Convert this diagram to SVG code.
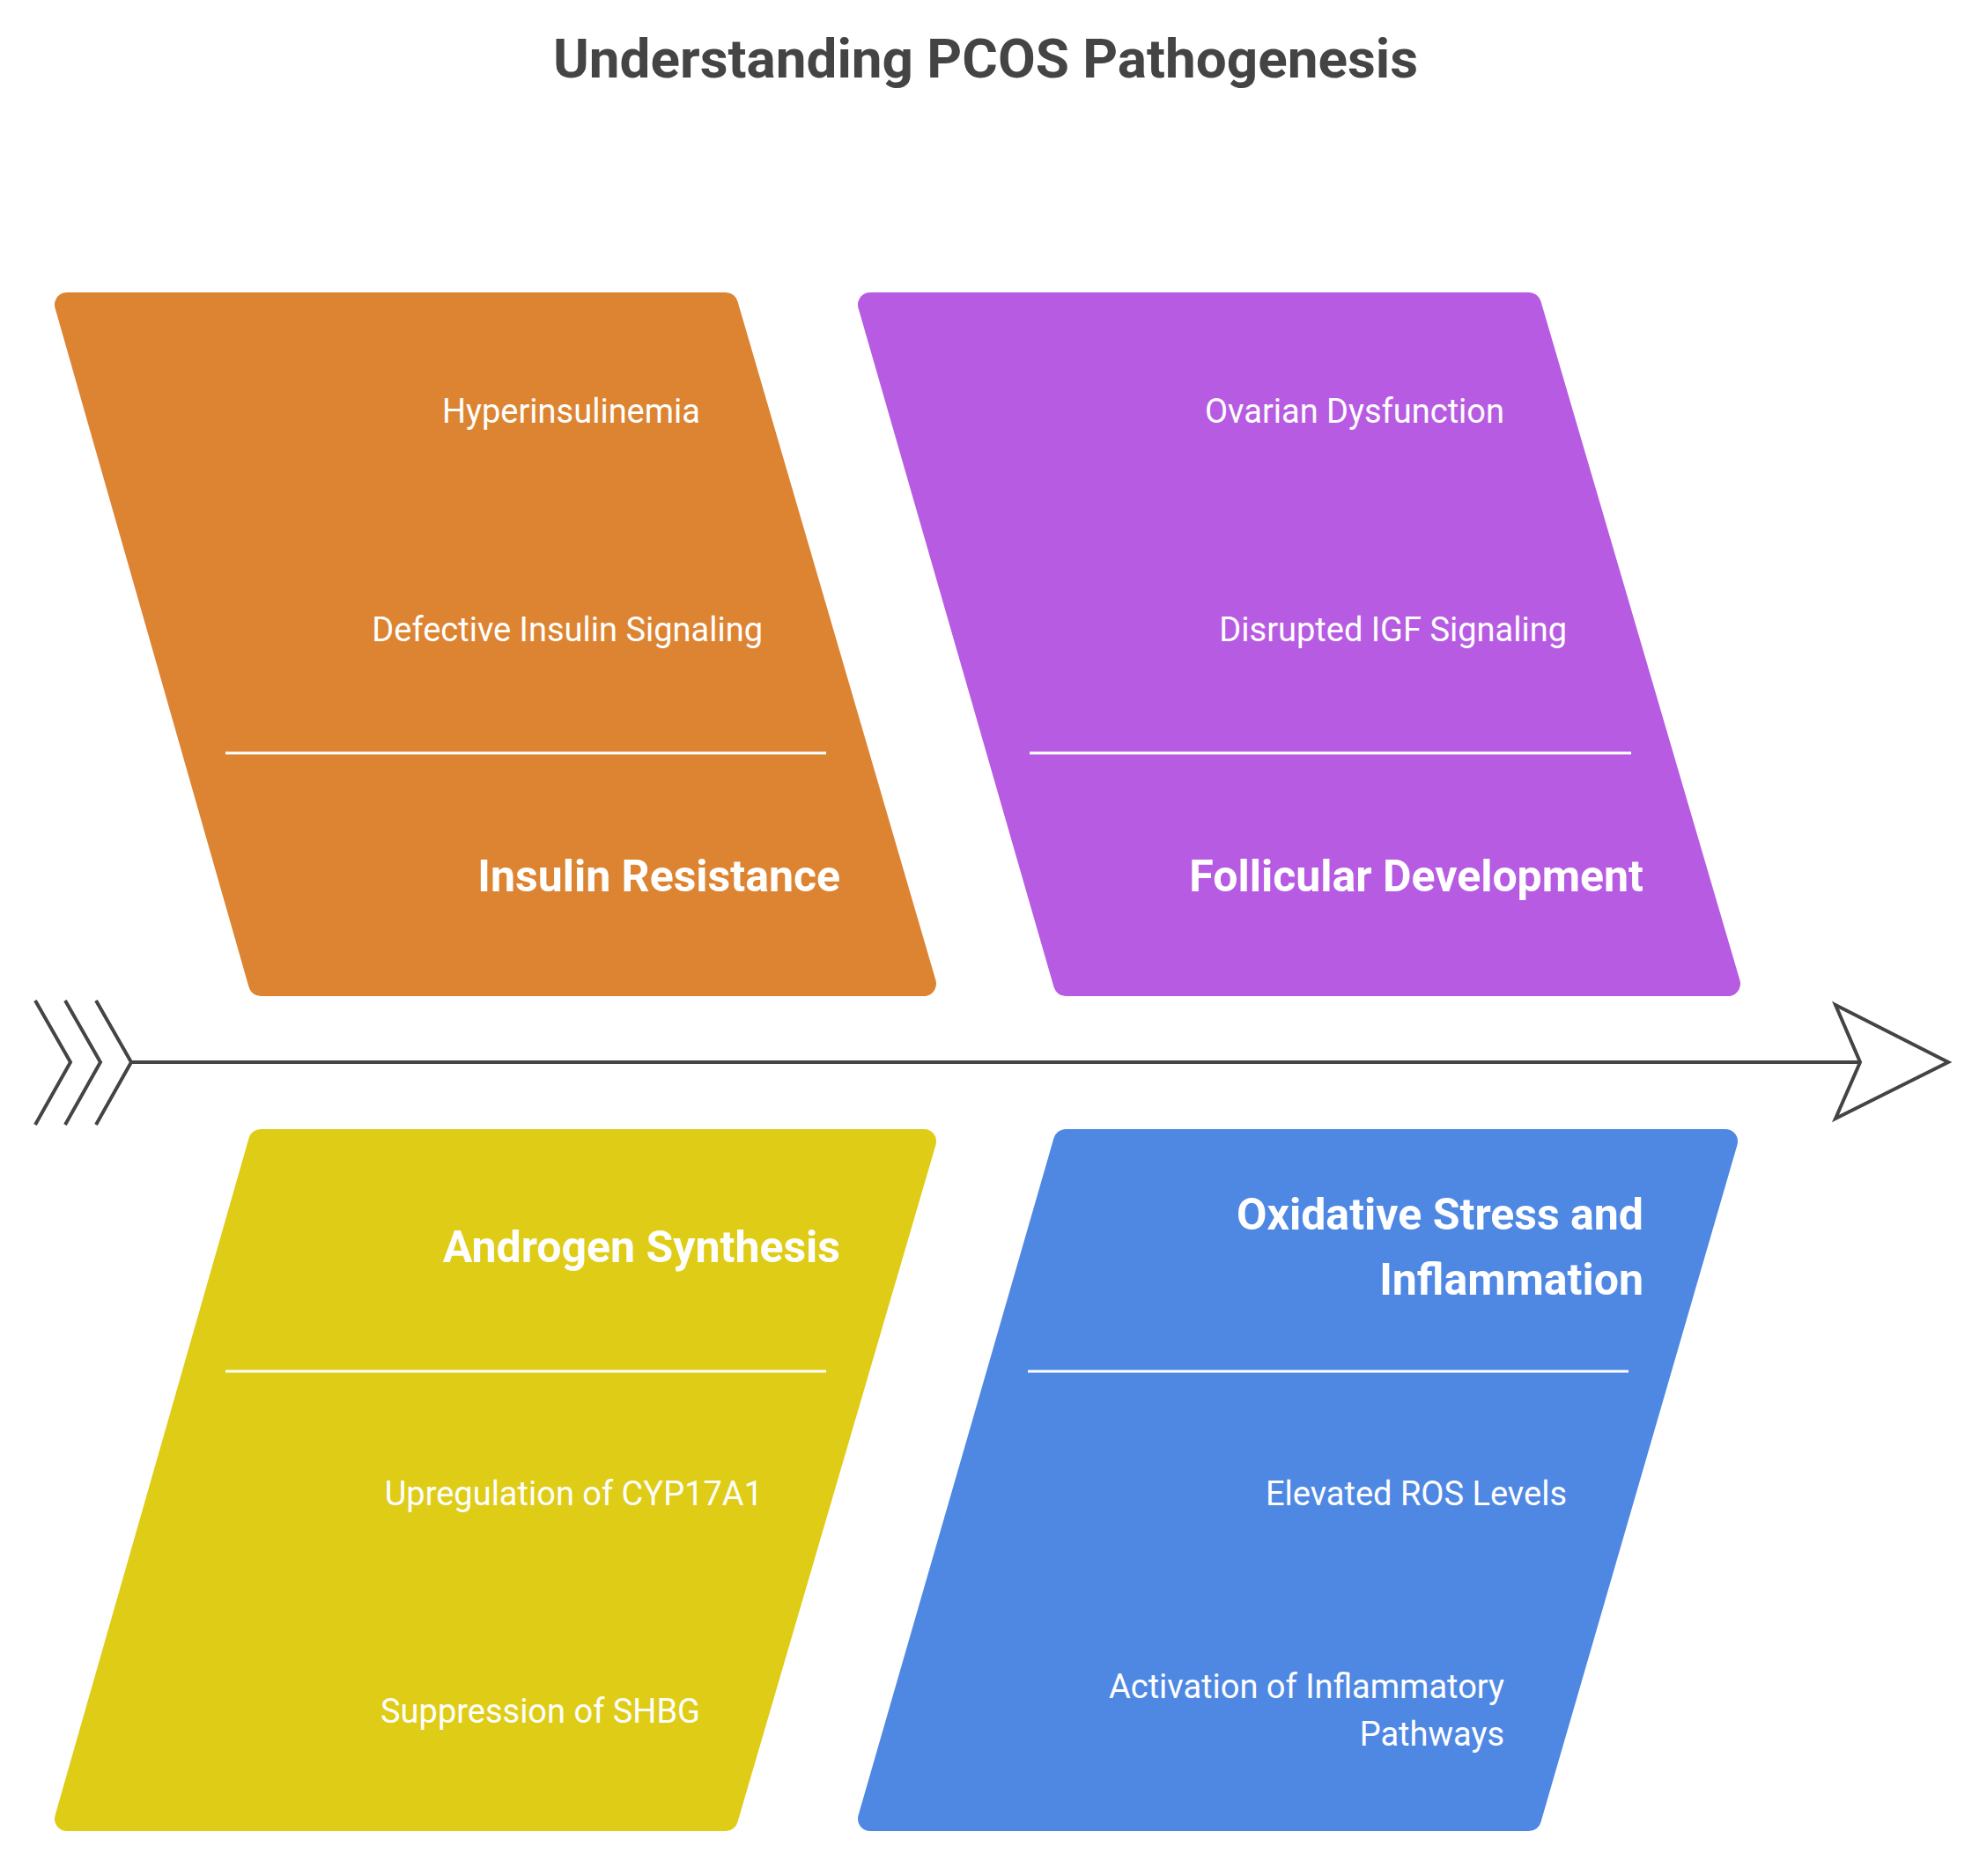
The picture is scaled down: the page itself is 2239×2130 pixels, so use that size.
<svg xmlns="http://www.w3.org/2000/svg" width="2239" height="2130" viewBox="0 0 2239 2130">
<style>
.s{stroke-width:28;stroke-linejoin:round}
.t{font-family:Roboto,"Liberation Sans",sans-serif;fill:#fff;text-anchor:end;font-size:38px}
.h{font-family:Roboto,"Liberation Sans",sans-serif;fill:#fff;text-anchor:end;font-size:50px;font-weight:bold}
.d{stroke:#fff;stroke-width:3}
.c{fill:none;stroke:#444;stroke-width:4}
</style>
<rect width="2239" height="2130" fill="#fff"/>
<text x="1119" y="88" font-family="Roboto,'Liberation Sans',sans-serif" font-size="62" font-weight="bold" fill="#444" text-anchor="middle">Understanding PCOS Pathogenesis</text>
<g id="connectors">
<line class="c" x1="150" y1="1206" x2="2112" y2="1206"/>
<polyline class="c" points="40,1136 80,1206 40,1277"/>
<polyline class="c" points="74,1136 114,1206 74,1277"/>
<polyline class="c" points="109,1136 149,1206 109,1277"/>
<polygon class="c" points="2084,1141 2212,1206 2084,1270 2112,1206"/>
</g>
<g id="insulin">
<polygon class="s" fill="#DD8432" stroke="#DD8432" points="76,346 824,346 1049,1117 296,1117"/>
<line class="d" x1="256" y1="855" x2="938" y2="855"/>
<text class="t" x="795" y="480">Hyperinsulinemia</text>
<text class="t" x="866" y="728">Defective Insulin Signaling</text>
<text class="h" x="954" y="1012">Insulin Resistance</text>
</g>
<g id="follicular">
<polygon class="s" fill="#B75CE2" stroke="#B75CE2" points="988,346 1736,346 1962,1117 1210,1117"/>
<line class="d" x1="1169" y1="855" x2="1852" y2="855"/>
<text class="t" x="1708" y="480">Ovarian Dysfunction</text>
<text class="t" x="1779" y="728">Disrupted IGF Signaling</text>
<text class="h" x="1866" y="1012">Follicular Development</text>
</g>
<g id="androgen">
<polygon class="s" fill="#DFCC17" stroke="#DFCC17" points="296,1296 1049,1296 824,2065 76,2065"/>
<line class="d" x1="256" y1="1557" x2="938" y2="1557"/>
<text class="h" x="954" y="1433">Androgen Synthesis</text>
<text class="t" x="866" y="1709">Upregulation of CYP17A1</text>
<text class="t" x="795" y="1956">Suppression of SHBG</text>
</g>
<g id="oxidative">
<polygon class="s" fill="#4F88E3" stroke="#4F88E3" points="1210,1296 1959,1296 1736,2065 988,2065"/>
<line class="d" x1="1167" y1="1557" x2="1849" y2="1557"/>
<text class="h" x="1866" y="1396">Oxidative Stress and</text>
<text class="h" x="1866" y="1470">Inflammation</text>
<text class="t" x="1779" y="1709">Elevated ROS Levels</text>
<text class="t" x="1708" y="1928">Activation of Inflammatory</text>
<text class="t" x="1708" y="1982">Pathways</text>
</g>
</svg>
